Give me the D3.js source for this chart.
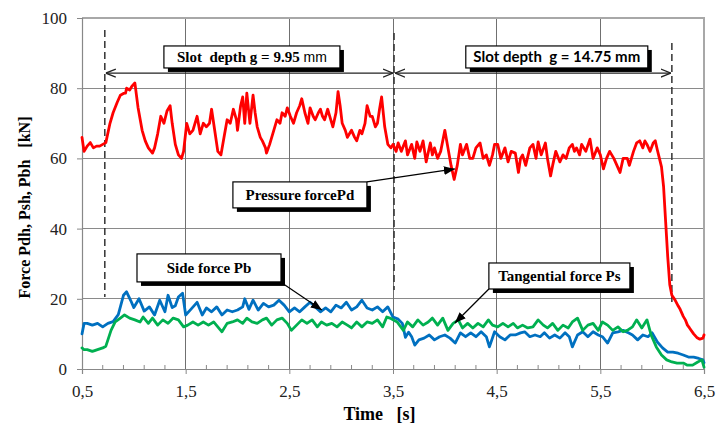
<!DOCTYPE html>
<html>
<head>
<meta charset="utf-8">
<script src="https://cdn.jsdelivr.net/npm/d3@7"></script>
<style>
  html, body { margin: 0; padding: 0; background: #fff; }
  svg { display: block; }
  text { white-space: pre; }
</style>
</head>
<body>
<svg id="chart" width="716" height="432"></svg>
<script>
// Measured forces during slotting, time in seconds, force in kN
const pressure = [
  [0.50,66],[0.52,62],[0.55,63.5],[0.58,64.5],[0.61,63],[0.64,63.5],[0.67,63.5],[0.70,64],[0.73,64.5],[0.77,70],
  [0.80,73],[0.84,76],[0.87,78],[0.90,78.5],[0.92,78.6],[0.93,80],[0.96,79.5],[0.98,80.5],[1.01,81.5],[1.04,74.6],
  [1.08,68],[1.11,65],[1.14,63],[1.18,61.5],[1.20,63],[1.23,67],[1.26,72],[1.29,70],[1.32,73.5],[1.35,75],
  [1.37,70],[1.40,64],[1.43,61],[1.46,60],[1.48,62],[1.51,70],[1.54,67],[1.57,68],[1.61,72],[1.64,67],
  [1.67,70],[1.70,69],[1.73,70],[1.75,74],[1.78,68],[1.81,62],[1.84,61],[1.87,66],[1.90,71],[1.93,70],
  [1.96,74],[1.99,71],[2.00,68],[2.03,75],[2.05,77.5],[2.07,70],[2.09,78.6],[2.12,70],[2.15,78],[2.17,73],
  [2.19,69],[2.22,66],[2.24,65],[2.27,63],[2.28,61.5],[2.31,64],[2.33,66],[2.36,69],[2.38,71],[2.41,70],
  [2.43,73],[2.46,72],[2.48,74.4],[2.51,72],[2.54,70],[2.57,73],[2.60,75],[2.62,77],[2.65,73],[2.68,70],
  [2.70,74.4],[2.73,72],[2.75,71],[2.78,73],[2.80,74],[2.82,72],[2.84,71],[2.87,74],[2.89,72],[2.92,69],
  [2.95,73],[2.97,79],[2.99,75],[3.01,70],[3.04,68],[3.06,66],[3.08,67],[3.10,68],[3.13,66],[3.15,65],
  [3.18,68],[3.20,67],[3.23,70],[3.25,75],[3.28,72],[3.30,72],[3.33,69],[3.35,70],[3.37,74],[3.39,77.5],
  [3.42,69],[3.45,64],[3.48,63],[3.50,64],[3.53,62],[3.55,64.4],[3.58,62],[3.62,65],[3.64,61],[3.68,64],
  [3.71,60],[3.73,64.7],[3.76,62],[3.79,65],[3.82,59],[3.86,64.4],[3.88,61],[3.90,63],[3.93,60],[3.96,62],
  [4.00,68],[4.03,63],[4.06,58],[4.09,54],[4.12,58],[4.15,64],[4.17,61],[4.21,64],[4.24,60],[4.27,60],
  [4.30,63],[4.34,64.4],[4.37,60],[4.40,61],[4.43,58],[4.46,61],[4.48,64],[4.51,64],[4.54,60],[4.58,63],
  [4.61,59],[4.64,62],[4.68,61.5],[4.71,56],[4.73,60],[4.75,61],[4.78,58],[4.82,63],[4.85,64],[4.88,60],
  [4.90,64.7],[4.93,61],[4.97,64.4],[4.99,60],[5.02,55],[5.04,58],[5.07,62],[5.11,59],[5.14,61],[5.17,60],
  [5.20,63],[5.23,64],[5.25,62],[5.27,63],[5.30,61],[5.32,64],[5.36,62],[5.40,65.5],[5.43,60],[5.47,63],
  [5.50,61],[5.53,57],[5.56,60],[5.59,62],[5.63,60],[5.66,58],[5.69,56],[5.72,60],[5.76,60],[5.78,58],
  [5.82,62],[5.85,64.4],[5.88,65],[5.91,63],[5.93,65],[5.95,64],[5.98,62],[6.01,64.4],[6.03,65],[6.05,62.4],
  [6.07,60],[6.09,57.6],[6.11,52],[6.13,42],[6.15,32],[6.17,24],[6.19,21],[6.22,19.7],[6.25,18],[6.27,17],
  [6.30,15],[6.32,14],[6.34,12.5],[6.36,11.7],[6.40,10],[6.43,9],[6.46,8.5],[6.49,8.8],[6.50,9.7]
];

const sideForce = [
  [0.50,10],[0.52,13],[0.55,13],[0.60,12.5],[0.65,13],[0.70,12],[0.75,13],[0.80,13.5],[0.85,15.5],[0.90,21],
  [0.93,22],[0.97,19.5],[1.00,17.5],[1.05,20],[1.10,16.5],[1.15,17.7],[1.20,15.4],[1.25,19.6],[1.30,16.3],[1.33,21],
  [1.37,17.5],[1.40,18],[1.43,20.5],[1.47,21.6],[1.50,15.4],[1.55,17],[1.61,19],[1.66,15.4],[1.70,17.4],[1.75,16.3],
  [1.80,17.7],[1.85,15.4],[1.90,16.8],[1.95,16.3],[2.00,16.8],[2.05,17.7],[2.07,20],[2.11,17],[2.15,19.6],[2.20,16.8],
  [2.25,18.7],[2.30,17.7],[2.35,18.2],[2.40,19.6],[2.45,18.2],[2.50,16.3],[2.55,17.4],[2.60,16.3],[2.65,17.7],[2.70,19],
  [2.75,17.7],[2.80,16.3],[2.85,17.4],[2.90,16.3],[2.95,18.2],[3.00,17.4],[3.05,19],[3.10,16.8],[3.15,17.7],[3.20,19.6],
  [3.25,17.4],[3.30,16.8],[3.35,17.7],[3.40,16.3],[3.45,17.7],[3.50,14.8],[3.55,14.2],[3.59,13],[3.62,9],[3.65,10.5],
  [3.68,9.2],[3.71,6.8],[3.75,8.3],[3.80,8.8],[3.85,9.7],[3.90,8.3],[3.95,9.2],[4.00,9.7],[4.05,8.8],[4.10,7.4],
  [4.15,10.3],[4.20,9.2],[4.25,10.3],[4.30,9.2],[4.35,10.6],[4.40,9.2],[4.43,6.3],[4.48,10.6],[4.53,9.2],[4.58,8.3],
  [4.63,9.7],[4.68,9.7],[4.73,10.3],[4.77,10.6],[4.82,9.2],[4.87,9.7],[4.92,9.2],[4.96,10.3],[5.01,8.8],[5.06,9.7],
  [5.11,8.8],[5.16,10.3],[5.20,9.2],[5.23,6.3],[5.28,9.7],[5.33,10.6],[5.38,9.2],[5.43,10.6],[5.48,9.7],[5.52,9.2],
  [5.57,7.4],[5.62,10.3],[5.67,10.6],[5.72,11],[5.77,10.3],[5.81,9.7],[5.86,8.3],[5.91,9.7],[5.96,9.2],[6.00,10.3],
  [6.05,7.7],[6.10,6],[6.15,4.8],[6.20,4.8],[6.25,4.5],[6.30,4],[6.35,3.4],[6.40,3.4],[6.45,3],[6.49,2.6],[6.50,1.8]
];

const tangentialForce = [
  [0.50,6],[0.52,5.5],[0.55,5.5],[0.60,5],[0.65,5.5],[0.70,6],[0.73,6.5],[0.75,8.3],[0.78,11],[0.82,13.4],
  [0.87,14.5],[0.91,15.4],[0.96,14.5],[1.01,14],[1.06,13.4],[1.09,14.8],[1.14,13],[1.18,14.5],[1.23,12.5],[1.28,14],
  [1.33,13],[1.38,14.5],[1.43,14],[1.48,12],[1.52,12.5],[1.57,13.4],[1.62,12.5],[1.67,13.4],[1.72,12.5],[1.77,13.4],
  [1.81,12],[1.85,10.6],[1.90,13],[1.95,13.4],[2.00,14],[2.05,13],[2.09,14.5],[2.14,13.4],[2.19,13],[2.24,14],
  [2.28,14.5],[2.33,12.5],[2.38,14],[2.43,14.5],[2.48,13],[2.52,11],[2.57,12.5],[2.62,14],[2.67,13],[2.72,14],
  [2.77,12],[2.81,13.4],[2.86,12.5],[2.91,13],[2.96,12],[3.01,13.4],[3.06,12.5],[3.10,11.7],[3.15,13.4],[3.20,12],
  [3.25,13.4],[3.30,13],[3.35,14],[3.40,12],[3.44,14.8],[3.47,14.5],[3.54,13.4],[3.60,11],[3.64,13.4],[3.69,12],
  [3.74,14],[3.79,12.5],[3.84,13.4],[3.88,14.5],[3.93,12.5],[3.98,14.5],[4.03,11],[4.08,13],[4.13,14],[4.17,11.7],
  [4.22,13],[4.27,11.7],[4.32,13],[4.37,12],[4.42,14],[4.46,12.5],[4.51,12],[4.56,13],[4.61,12],[4.66,13],
  [4.70,11.7],[4.75,12.5],[4.80,11.7],[4.85,12],[4.90,14],[4.95,12.5],[4.99,11.7],[5.04,13],[5.09,11],[5.14,12.5],
  [5.19,11.7],[5.23,13.4],[5.28,14.5],[5.33,11],[5.38,12.5],[5.43,13],[5.48,11],[5.52,13.4],[5.57,12.5],[5.62,11],
  [5.67,12],[5.72,10.6],[5.76,11],[5.81,12],[5.85,14],[5.90,11.7],[5.95,14],[5.99,9.7],[6.04,6.3],[6.09,4],
  [6.14,2.6],[6.19,2],[6.24,1.7],[6.30,1.7],[6.34,1.1],[6.39,1.1],[6.44,2],[6.48,2.6],[6.50,0.5]
];

const xMajorTicks = [0.5, 1.5, 2.5, 3.5, 4.5, 5.5, 6.5];
const xTickLabels = ["0,5", "1,5", "2,5", "3,5", "4,5", "5,5", "6,5"];
const yTicks = [0, 20, 40, 60, 80, 100];

// Stage boundaries (time, s) and the slot depth of each stage
const stageBounds = [0.72, 3.51, 6.19];
const stageLabels = ["Slot  depth g = 9.95", "Slot depth  g = 14.75 mm"];

const svg = d3.select("#chart");
const W = 716, H = 432;
const margin = { left: 82, right: 12, top: 18, bottom: 63 };

const x = d3.scaleLinear().domain([0.5, 6.5]).range([margin.left, W - margin.right]);
const y = d3.scaleLinear().domain([0, 100]).range([H - margin.bottom, margin.top]);

const serif = "'Liberation Serif', 'Times New Roman', serif";
const gridColor = "#8a8a8a";

svg.append("rect").attr("width", W).attr("height", H).attr("fill", "#fff");

// Grid
const grid = svg.append("g");
grid.selectAll("line.h").data(yTicks.filter(d => d > 0 && d < 100)).join("line")
  .attr("x1", x(0.5)).attr("x2", x(6.5))
  .attr("y1", d => y(d)).attr("y2", d => y(d))
  .attr("stroke", gridColor).attr("stroke-width", 1).attr("shape-rendering", "crispEdges");
grid.selectAll("line.v").data(xMajorTicks.slice(1, -1)).join("line")
  .attr("x1", d => x(d)).attr("x2", d => x(d))
  .attr("y1", y(0)).attr("y2", y(100))
  .attr("stroke", "#707070").attr("stroke-width", 1).attr("shape-rendering", "crispEdges");

// Plot frame (top and right)
svg.append("path")
  .attr("d", `M${x(0.5)},${y(100)}H${x(6.5)}V${y(0)}`)
  .attr("fill", "none").attr("stroke", "#a8a8a8").attr("stroke-width", 1.2)
  .attr("shape-rendering", "crispEdges");

// Y axis
const yAxis = d3.axisLeft(y).tickValues(yTicks).tickSize(5).tickPadding(10);
const gy = svg.append("g").attr("transform", `translate(${x(0.5)},0)`).call(yAxis);
gy.select(".domain").attr("stroke", "#888").attr("stroke-width", 1.2);
gy.selectAll(".tick line").attr("stroke", "#888");
gy.selectAll("text").attr("font-family", serif).attr("font-size", 17).attr("fill", "#222");

// X axis: major ticks below, minor ticks above
const xAxis = d3.axisBottom(x).tickValues(xMajorTicks).tickSize(5).tickPadding(11)
  .tickFormat((d, i) => xTickLabels[i]);
const gx = svg.append("g").attr("transform", `translate(0,${y(0)})`).call(xAxis);
gx.select(".domain").attr("stroke", "#888").attr("stroke-width", 1.2);
gx.selectAll(".tick line").attr("stroke", "#888");
gx.selectAll("text").attr("font-family", serif).attr("font-size", 17).attr("fill", "#222");
const minor = d3.range(0.7, 6.45, 0.2).filter(t => Math.abs((t - 0.5) % 1) > 0.05 && Math.abs((t - 0.5) % 1 - 1) > 0.05);
svg.append("g").selectAll("line").data(minor).join("line")
  .attr("x1", d => x(d)).attr("x2", d => x(d))
  .attr("y1", y(0)).attr("y2", y(0) - 4)
  .attr("stroke", "#888").attr("stroke-width", 1);

// Axis titles
svg.append("text")
  .attr("transform", `translate(30,${(y(0) + y(100)) / 2 + 14}) rotate(-90)`)
  .attr("text-anchor", "middle")
  .attr("font-family", serif).attr("font-weight", "bold").attr("font-size", 16)
  .text("Force Pdh, Psh, Pbh   [kN]");
svg.append("text")
  .attr("x", x(3.37)).attr("y", 420)
  .attr("text-anchor", "middle")
  .attr("font-family", serif).attr("font-weight", "bold").attr("font-size", 18)
  .text("Time   [s]");

// Stage boundary dashed lines
const dashSpans = [[96.6, 20.5], [95.7, 22.5], [92.9, 19.1]];
svg.append("g").selectAll("line").data(stageBounds).join("line")
  .attr("x1", d => x(d)).attr("x2", d => x(d))
  .attr("y1", (d, i) => y(dashSpans[i][0])).attr("y2", (d, i) => y(dashSpans[i][1]))
  .attr("stroke", "#333").attr("stroke-width", 1.5).attr("stroke-dasharray", "7,4");

// Series
const line = d3.line().x(d => x(d[0])).y(d => y(d[1]));
const series = [
  { data: pressure, color: "#ff0000" },
  { data: sideForce, color: "#0070c0" },
  { data: tangentialForce, color: "#00b050" }
];
svg.append("g").selectAll("path").data(series).join("path")
  .attr("d", d => line(d.data))
  .attr("fill", "none").attr("stroke", d => d.color)
  .attr("stroke-width", 2.8).attr("stroke-linejoin", "round").attr("stroke-linecap", "round");

// Dimension arrows for the two stages
const defs = svg.append("defs");
defs.append("marker").attr("id", "open").attr("viewBox", "0 0 10 10")
  .attr("refX", 10).attr("refY", 5).attr("markerWidth", 10).attr("markerHeight", 10)
  .attr("markerUnits", "userSpaceOnUse").attr("orient", "auto-start-reverse")
  .append("path").attr("d", "M0,1 L10,5 L0,9").attr("fill", "none").attr("stroke", "#222").attr("stroke-width", 1.3);
defs.append("marker").attr("id", "solid").attr("viewBox", "0 0 10 10")
  .attr("refX", 10).attr("refY", 5).attr("markerWidth", 11).attr("markerHeight", 11)
  .attr("markerUnits", "userSpaceOnUse").attr("orient", "auto")
  .append("path").attr("d", "M0,1 L10,5 L0,9 Z").attr("fill", "#000");

const spanLevel = 84.3;
[[stageBounds[0], stageBounds[1]], [stageBounds[1], stageBounds[2]]].forEach(([a, b]) => {
  svg.append("line")
    .attr("x1", x(a) + 1).attr("x2", x(b) - 1)
    .attr("y1", y(spanLevel)).attr("y2", y(spanLevel))
    .attr("stroke", "#222").attr("stroke-width", 1.2)
    .attr("marker-start", "url(#open)").attr("marker-end", "url(#open)");
});

// Callout boxes with drop shadows
function callout(cx, cy, w, h, build) {
  const g = svg.append("g");
  const px = x(cx) - w / 2, py = y(cy) - h / 2;
  g.append("rect").attr("x", px + 4).attr("y", py + 4).attr("width", w).attr("height", h).attr("fill", "#000");
  g.append("rect").attr("x", px).attr("y", py).attr("width", w).attr("height", h)
    .attr("fill", "#fff").attr("stroke", "#000").attr("stroke-width", 1.2);
  const t = g.append("text").attr("x", x(cx)).attr("y", y(cy) + 5).attr("text-anchor", "middle");
  build(t);
}

callout(2.139, 88.9, 176, 22, t => {
  t.append("tspan").attr("font-family", serif).attr("font-weight", "bold").attr("font-size", 15).text(stageLabels[0]);
  t.append("tspan").attr("font-family", "'Liberation Sans', Arial, sans-serif").attr("font-size", 14).text(" mm");
});
callout(5.08, 88.9, 182, 22, t => {
  t.attr("font-family", "Lato, 'Liberation Sans', sans-serif").attr("font-weight", "bold").attr("font-size", 15)
   .text(stageLabels[1]);
});

// Arrows from labels to curves
const pointers = [
  [[3.248, 53.3], [4.097, 57.0]],
  [[2.429, 24.5], [2.814, 16.8]],
  [[4.425, 22.8], [4.097, 13.1]]
];
svg.append("g").selectAll("line").data(pointers).join("line")
  .attr("x1", d => x(d[0][0])).attr("y1", d => y(d[0][1]))
  .attr("x2", d => x(d[1][0])).attr("y2", d => y(d[1][1]))
  .attr("stroke", "#000").attr("stroke-width", 1.2).attr("marker-end", "url(#solid)");

const seriesNames = ["Pressure forcePd", "Side force Pb", "Tangential force Ps"];
const labelBoxes = [[2.602, 49.6, 134, 26], [1.725, 28.8, 144, 28], [5.105, 26.5, 141, 26]];
labelBoxes.forEach(([cx, cy, w, h], i) => {
  callout(cx, cy, w, h, t => {
    t.attr("font-family", serif).attr("font-weight", "bold").attr("font-size", 15).text(seriesNames[i]);
  });
});
</script>
</body>
</html>
